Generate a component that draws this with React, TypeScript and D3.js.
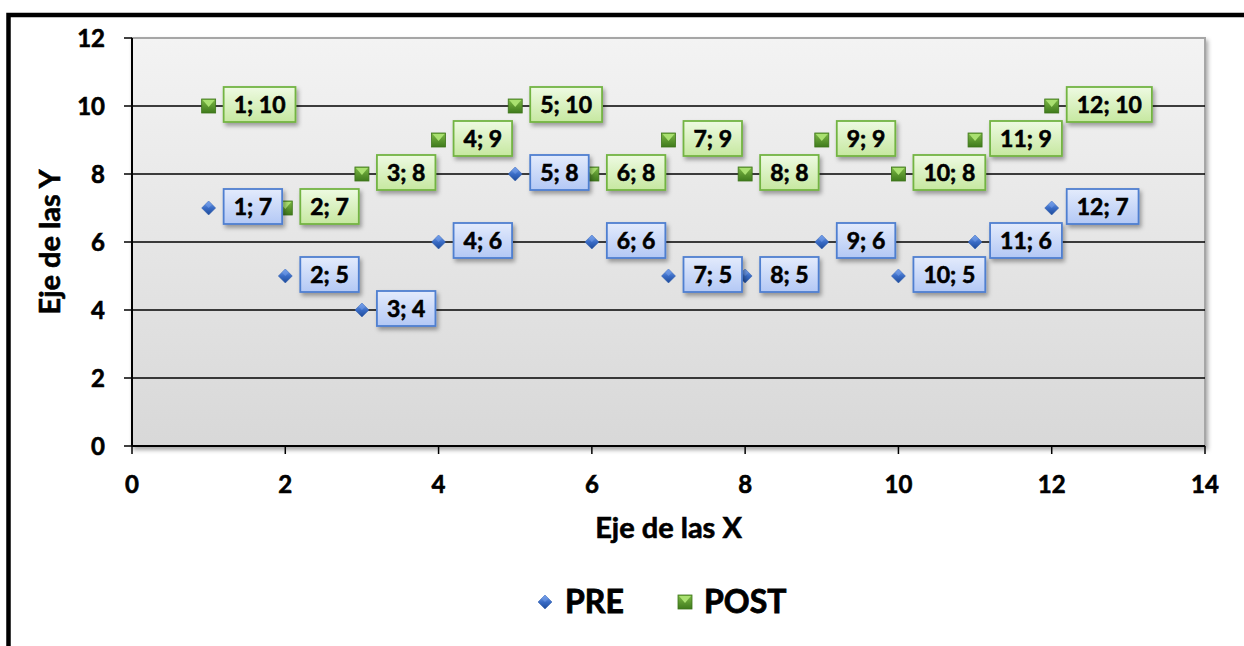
import React, { useEffect, useRef } from 'react';
import * as d3 from 'd3';

const xValues = [1, 2, 3, 4, 5, 6, 7, 8, 9, 10, 11, 12];
const preValues = [7, 5, 4, 6, 8, 6, 5, 5, 6, 5, 6, 7];
const postValues = [10, 7, 8, 9, 10, 8, 9, 8, 9, 8, 9, 10];
const xTicks = [0, 2, 4, 6, 8, 10, 12, 14];
const yTicks = [0, 2, 4, 6, 8, 10, 12];
const seriesNames = ['PRE', 'POST'];
const xTitle = 'Eje de las X';
const yTitle = 'Eje de las Y';

const FONT = "Lato, 'Open Sans', sans-serif";
const WEIGHT = 'bold';

export default function App() {
  const ref = useRef<SVGSVGElement>(null);

  useEffect(() => {
    const svg = d3.select(ref.current);
    svg.selectAll('*').remove();
    const left = 132, right = 1205, top = 38, bottom = 446;
    const x = d3.scaleLinear().domain([0, 14]).range([left, right]);
    const y = d3.scaleLinear().domain([0, 12]).range([bottom, top]);

    const bold = (t: any, sw = 0.6) =>
      t.attr('font-family', FONT).attr('font-weight', WEIGHT)
        .attr('fill', '#000').attr('stroke', '#000').attr('stroke-width', sw)
        .attr('paint-order', 'stroke');

    const defs = svg.append('defs');
    const lg = (id: string, stops: [number, string][]) => {
      const g = defs.append('linearGradient').attr('id', id)
        .attr('x1', 0).attr('y1', 0).attr('x2', 0).attr('y2', 1);
      stops.forEach(([o, c]) => g.append('stop').attr('offset', o).attr('stop-color', c));
    };
    lg('plotBg', [[0, '#f3f3f3'], [1, '#d8d8d8']]);
    lg('blueBox', [[0, '#e3ebfc'], [1, '#b3c8f5']]);
    lg('greenBox', [[0, '#eefae2'], [1, '#c6e8a0']]);
    lg('blueMk', [[0, '#7aa6ee'], [0.5, '#3a6cc6'], [1, '#1e4b9a']]);
    lg('greenMk', [[0, '#7cb845'], [1, '#3f7a1c']]);
    const f = defs.append('filter').attr('id', 'shadow')
      .attr('x', '-20%').attr('y', '-20%').attr('width', '150%').attr('height', '160%');
    f.append('feDropShadow').attr('dx', 2).attr('dy', 3).attr('stdDeviation', 2)
      .attr('flood-color', '#000').attr('flood-opacity', 0.35);

    // outer frame
    svg.append('rect').attr('x', 8.5).attr('y', 15).attr('width', 1300).attr('height', 700)
      .attr('fill', '#fff').attr('stroke', '#000').attr('stroke-width', 4.5);

    // plot area
    svg.append('rect').attr('x', left).attr('y', top)
      .attr('width', right - left).attr('height', bottom - top)
      .attr('fill', 'url(#plotBg)').attr('stroke', '#a6a6a6').attr('stroke-width', 2)
      .attr('filter', 'url(#shadow)');

    // gridlines
    svg.append('g').selectAll('line').data(yTicks.filter(t => t > 0 && t < 12)).join('line')
      .attr('x1', left).attr('x2', right)
      .attr('y1', d => y(d)).attr('y2', d => y(d))
      .attr('stroke', '#000').attr('stroke-width', 1.5);

    // axes
    svg.append('line').attr('x1', left).attr('x2', left).attr('y1', top).attr('y2', bottom)
      .attr('stroke', '#000').attr('stroke-width', 2);
    svg.append('line').attr('x1', left).attr('x2', right).attr('y1', bottom).attr('y2', bottom)
      .attr('stroke', '#000').attr('stroke-width', 2);
    svg.append('g').selectAll('line').data(yTicks).join('line')
      .attr('x1', left - 8).attr('x2', left).attr('y1', d => y(d)).attr('y2', d => y(d))
      .attr('stroke', '#000').attr('stroke-width', 1.5);
    svg.append('g').selectAll('line').data(xTicks).join('line')
      .attr('x1', d => x(d)).attr('x2', d => x(d)).attr('y1', bottom).attr('y2', bottom + 8)
      .attr('stroke', '#000').attr('stroke-width', 1.5);

    bold(svg.append('g').selectAll('text').data(yTicks).join('text')
      .attr('x', 105).attr('y', d => y(d)).attr('dy', '0.36em')
      .attr('text-anchor', 'end').attr('font-size', 24).text(d => d));
    bold(svg.append('g').selectAll('text').data(xTicks).join('text')
      .attr('x', d => x(d)).attr('y', 493)
      .attr('text-anchor', 'middle').attr('font-size', 24).text(d => d));

    // axis titles
    bold(svg.append('text').attr('x', (left + right) / 2).attr('y', 538)
      .attr('text-anchor', 'middle').attr('font-size', 29).text(xTitle));
    bold(svg.append('text').attr('transform', `translate(60,${(top + bottom) / 2}) rotate(-90)`)
      .attr('text-anchor', 'middle').attr('font-size', 29).text(yTitle));

    const diamond = (g: any, cx: number, cy: number, r: number) => {
      g.append('path').attr('d', `M${cx},${cy - r}L${cx + r},${cy}L${cx},${cy + r}L${cx - r},${cy}Z`)
        .attr('fill', 'url(#blueMk)').attr('stroke', '#2c5aa8').attr('stroke-width', 0.5);
      g.append('path').attr('d', `M${cx},${cy - r}L${cx + r * 0.5},${cy - r * 0.5}L${cx},${cy}L${cx - r * 0.5},${cy - r * 0.5}Z`)
        .attr('fill', '#6f9ae6').attr('opacity', 0.6);
    };
    const square = (g: any, cx: number, cy: number, r: number) => {
      g.append('rect').attr('x', cx - r).attr('y', cy - r).attr('width', 2 * r).attr('height', 2 * r)
        .attr('fill', 'url(#greenMk)').attr('stroke', '#3d7419').attr('stroke-width', 0.8);
      g.append('path').attr('d', `M${cx - r + 1},${cy - r + 1}L${cx + r - 1},${cy - r + 1}L${cx},${cy + 1}Z`)
        .attr('fill', '#a9e070');
    };

    const mk = svg.append('g');
    xValues.forEach((xv, i) => diamond(mk, x(xv), y(preValues[i]), 7));
    xValues.forEach((xv, i) => square(mk, x(xv), y(postValues[i]), 7));

    const labels = svg.append('g');
    const drawLabel = (xv: number, yv: number, fill: string, stroke: string) => {
      const px = x(xv), py = y(yv);
      const g = labels.append('g');
      const r = g.append('rect');
      const t = bold(g.append('text').attr('font-size', 23).attr('text-anchor', 'middle')
        .text(`${xv}; ${yv}`));
      const w = (t.node() as SVGTextElement).getComputedTextLength() + 20;
      const bx = px + 15, by = py - 19, bh = 35;
      r.attr('x', bx).attr('y', by).attr('width', w).attr('height', bh)
        .attr('fill', fill).attr('stroke', stroke).attr('stroke-width', 1.8)
        .attr('filter', 'url(#shadow)');
      t.attr('x', bx + w / 2).attr('y', by + bh / 2).attr('dy', '0.36em');
    };
    xValues.forEach((xv, i) => drawLabel(xv, preValues[i], 'url(#blueBox)', '#4f7fd0'));
    xValues.forEach((xv, i) => drawLabel(xv, postValues[i], 'url(#greenBox)', '#73b443'));

    // legend
    const leg = svg.append('g');
    diamond(leg, 545, 602, 7);
    bold(leg.append('text').attr('x', 565).attr('y', 613).attr('font-size', 32)
      .text(seriesNames[0]), 0.8);
    square(leg, 685, 602, 7);
    bold(leg.append('text').attr('x', 704).attr('y', 613).attr('font-size', 32)
      .text(seriesNames[1]), 0.8);
  }, []);

  return (
    <svg ref={ref} width={1244} height={646}
      style={{ position: 'absolute', left: 0, top: 0, background: '#fff' }} />
  );
}
